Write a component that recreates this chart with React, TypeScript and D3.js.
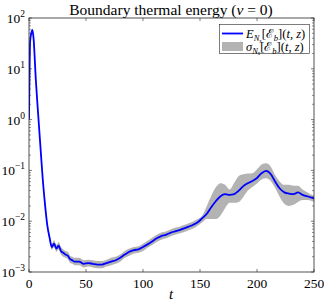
import React from "react";
import * as d3 from "d3";

// sample times and mean boundary energy
const times = [0, 1, 2, 3, 4, 6, 8, 10, 12, 14, 16, 18, 20, 22, 24, 26, 28, 30, 32, 34, 36, 38, 40, 44, 48, 52, 56, 60, 64, 68, 72, 76, 80, 84, 88, 92, 96, 100, 104, 108, 112, 116, 120, 124, 128, 132, 136, 140, 144, 148, 152, 156, 160, 164, 168, 172, 176, 180, 184, 188, 192, 196, 200, 204, 208, 212, 216, 220, 224, 228, 232, 236, 240, 244, 248, 250];
const meanVals = [1.0, 35, 50, 58, 40, 6, 1.3, 0.3, 0.07, 0.022, 0.0085, 0.0048, 0.0031, 0.0036, 0.0029, 0.0033, 0.0026, 0.0024, 0.0022, 0.0021, 0.0018, 0.0017, 0.0016, 0.0016, 0.00145, 0.0015, 0.00145, 0.0014, 0.0014, 0.0015, 0.0016, 0.0017, 0.0019, 0.0022, 0.0025, 0.0027, 0.0028, 0.0031, 0.0035, 0.004, 0.0046, 0.0051, 0.0054, 0.0059, 0.0063, 0.0067, 0.0072, 0.0078, 0.0085, 0.0095, 0.0115, 0.014, 0.019, 0.025, 0.031, 0.034, 0.033, 0.034, 0.04, 0.049, 0.056, 0.062, 0.071, 0.088, 0.098, 0.085, 0.06, 0.044, 0.037, 0.035, 0.034, 0.037, 0.033, 0.031, 0.029, 0.028];
// spread band edges
const lowerVals = [0.95, 33, 47, 55, 37, 5.5, 1.2, 0.27, 0.063, 0.02, 0.0076, 0.0042, 0.0027, 0.0031, 0.0025, 0.0028, 0.0022, 0.0020, 0.0019, 0.0018, 0.0015, 0.00145, 0.00136, 0.00136, 0.00123, 0.00128, 0.00123, 0.00119, 0.00119, 0.00128, 0.00136, 0.00145, 0.0016, 0.0019, 0.0021, 0.0023, 0.0024, 0.0026, 0.003, 0.0034, 0.0039, 0.0043, 0.0046, 0.005, 0.0054, 0.0057, 0.0061, 0.0066, 0.0072, 0.0081, 0.0095, 0.011, 0.011, 0.011, 0.013, 0.018, 0.023, 0.023, 0.024, 0.03, 0.04, 0.047, 0.055, 0.066, 0.07, 0.062, 0.045, 0.03, 0.022, 0.02, 0.021, 0.024, 0.026, 0.026, 0.025, 0.024];
const upperVals = [1.05, 37, 53, 61, 43, 6.5, 1.4, 0.33, 0.077, 0.024, 0.0094, 0.0055, 0.0036, 0.0042, 0.0034, 0.0039, 0.0031, 0.0028, 0.0026, 0.0025, 0.0021, 0.002, 0.0019, 0.0019, 0.0017, 0.00175, 0.0017, 0.00165, 0.00165, 0.00175, 0.0019, 0.002, 0.0022, 0.0026, 0.0029, 0.0031, 0.0032, 0.0036, 0.0041, 0.0047, 0.0054, 0.006, 0.0063, 0.0069, 0.0074, 0.0078, 0.0084, 0.0091, 0.0099, 0.011, 0.013, 0.02, 0.032, 0.047, 0.056, 0.052, 0.042, 0.057, 0.078, 0.084, 0.087, 0.088, 0.105, 0.13, 0.138, 0.12, 0.08, 0.06, 0.052, 0.052, 0.05, 0.05, 0.042, 0.037, 0.033, 0.032];

const xTicks = [0, 50, 100, 150, 200, 250];
const yExps = [-3, -2, -1, 0, 1, 2];

const W = 324;
const H = 306;
const left = 29, right = 314, top = 18, bottom = 272;
const axisColor = "#262626";
const font = "'Liberation Serif', 'DejaVu Serif', serif";

const App = () => {
  const x = d3.scaleLinear().domain([0, 250]).range([left, right]);
  const y = d3.scaleLog().domain([1e-3, 1e2]).range([bottom, top]);

  const idx = times.map((_, i) => i);
  const line = d3
    .line<number>()
    .x((i) => x(times[i]))
    .y((i) => y(meanVals[i]))
    .curve(d3.curveMonotoneX);
  const area = d3
    .area<number>()
    .x((i) => x(times[i]))
    .y0((i) => y(lowerVals[i]))
    .y1((i) => y(upperVals[i]))
    .curve(d3.curveMonotoneX);

  const minor: number[] = [];
  for (let e = -3; e < 2; e++) {
    for (let m = 2; m <= 9; m++) minor.push(m * Math.pow(10, e));
  }
  const tl = 3;
  const mtl = 2;

  const legendLabel = (sym: string, yy: number) => (
    <text x={246} y={yy} fontSize={12.5} fill="#000">
      <tspan fontStyle="italic">{sym}</tspan>
      <tspan fontSize={8.5} dy={3} fontStyle="italic">N</tspan>
      <tspan fontSize={6} dy={1.5} fontStyle="italic">s</tspan>
      <tspan dy={-4.5}>[ℰ</tspan>
      <tspan fontSize={8.5} dy={3} fontStyle="italic">b</tspan>
      <tspan dy={-3}>](</tspan>
      <tspan fontStyle="italic">t</tspan>
      <tspan>, </tspan>
      <tspan fontStyle="italic">z</tspan>
      <tspan>)</tspan>
    </text>
  );

  return (
    <svg
      width={W}
      height={H}
      style={{ position: "absolute", left: 0, top: 0, background: "#fff" }}
      fontFamily={font}
    >
      <defs>
        <clipPath id="plot">
          <rect x={left} y={top} width={right - left} height={bottom - top} />
        </clipPath>
      </defs>
      <text x={171} y={15} textAnchor="middle" fontSize={15.5} fill="#000">
        Boundary thermal energy (<tspan fontStyle="italic">ν</tspan> = 0)
      </text>

      <g clipPath="url(#plot)">
        <path d={area(idx) ?? ""} fill="#b3b3b3" stroke="none" />
        <path d={line(idx) ?? ""} fill="none" stroke="#0000ff" strokeWidth={1.8} />
      </g>

      {/* box */}
      <rect
        x={left}
        y={top}
        width={right - left}
        height={bottom - top}
        fill="none"
        stroke={axisColor}
        strokeWidth={0.8}
      />

      {/* x ticks */}
      {xTicks.map((t) => (
        <g key={"x" + t}>
          <line x1={x(t)} x2={x(t)} y1={bottom} y2={bottom - tl} stroke={axisColor} strokeWidth={0.6} />
          <line x1={x(t)} x2={x(t)} y1={top} y2={top + tl} stroke={axisColor} strokeWidth={0.6} />
          <text x={x(t)} y={288} textAnchor="middle" fontSize={13.5} fill="#000">
            {t}
          </text>
        </g>
      ))}
      <text x={171} y={299} textAnchor="middle" fontSize={15} fontStyle="italic" fill="#000">
        t
      </text>

      {/* y ticks */}
      {yExps.map((e) => {
        const yy = y(Math.pow(10, e));
        return (
          <g key={"y" + e}>
            <line x1={left} x2={left + tl} y1={yy} y2={yy} stroke={axisColor} strokeWidth={0.6} />
            <line x1={right} x2={right - tl} y1={yy} y2={yy} stroke={axisColor} strokeWidth={0.6} />
            <text x={25} y={yy + 5} textAnchor="end" fontSize={13.5} fill="#000">
              10
              <tspan fontSize={9.5} dy={-6}>
                {e < 0 ? "−" + -e : String(e)}
              </tspan>
            </text>
          </g>
        );
      })}
      {minor.map((v, i) => (
        <g key={"m" + i}>
          <line x1={left} x2={left + mtl} y1={y(v)} y2={y(v)} stroke={axisColor} strokeWidth={0.5} />
          <line x1={right} x2={right - mtl} y1={y(v)} y2={y(v)} stroke={axisColor} strokeWidth={0.5} />
        </g>
      ))}

      {/* legend */}
      <rect x={219.5} y={24.5} width={90} height={29} fill="#fff" stroke={axisColor} strokeWidth={0.6} />
      <line x1={222} x2={243} y1={33.5} y2={33.5} stroke="#0000ff" strokeWidth={1.8} />
      <rect x={222} y={42} width={21} height={9} fill="#b3b3b3" />
      {legendLabel("E", 38)}
      {legendLabel("σ", 50.5)}
    </svg>
  );
};

export default App;
